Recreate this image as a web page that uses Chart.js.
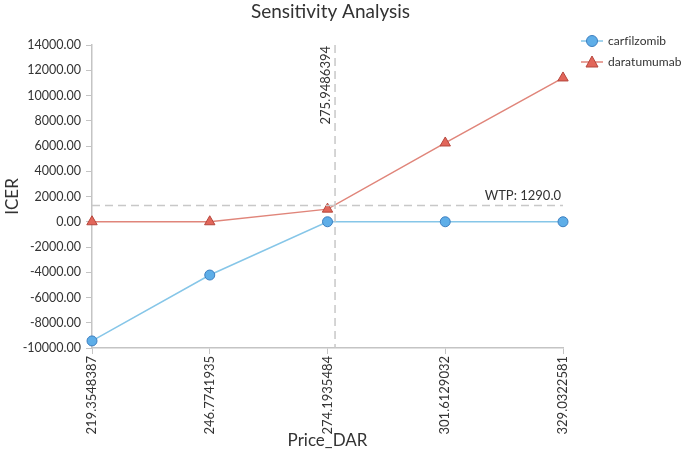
<!DOCTYPE html>
<html>
<head>
<meta charset="utf-8">
<script src="https://cdn.jsdelivr.net/npm/chart.js@4.4.0/dist/chart.umd.min.js"></script>
<style>
  html, body { margin: 0; padding: 0; background: #fff; }
  #wrap { width: 685px; height: 454px; }
</style>
</head>
<body>
<div id="wrap"><canvas id="chart"></canvas></div>
<script>
// Dados
const prices = [219.3548387, 246.7741935, 274.1935484, 301.6129032, 329.0322581];
const carfilzomib = [-9440, -4220, 0, 0, 0];
const daratumumab = [0, 0, 1000, 6240, 11390];
const breakEven = 275.9486394;
const wtp = 1290.0;
const titleText = 'Sensitivity Analysis';

const FONT = 'Lato, "Noto Sans", sans-serif';
const axisGray = '#c4c4c4';
const textColor = '#333';

// titulo, linhas de referencia e legenda desenhados a mao
const extras = {
  id: 'extras',
  afterDatasetsDraw(chart) {
    const { ctx, chartArea, scales } = chart;
    const x = scales.x.getPixelForValue(breakEven);
    const y = scales.y.getPixelForValue(wtp);
    ctx.save();

    ctx.fillStyle = textColor;
    ctx.font = '19px ' + FONT;
    ctx.textAlign = 'center';
    ctx.textBaseline = 'middle';
    ctx.fillText(titleText, (chartArea.left + chartArea.right) / 2 + 3, 12);

    ctx.strokeStyle = '#c8c8c8';
    ctx.lineWidth = 1.5;
    ctx.setLineDash([8, 5]);
    ctx.beginPath();
    ctx.moveTo(x, chartArea.top);
    ctx.lineTo(x, chartArea.bottom);
    ctx.moveTo(chartArea.left, y);
    ctx.lineTo(chartArea.right, y);
    ctx.stroke();
    ctx.setLineDash([]);

    ctx.fillStyle = textColor;
    ctx.font = '13px ' + FONT;
    ctx.textAlign = 'right';
    ctx.textBaseline = 'bottom';
    ctx.fillText('WTP: ' + wtp.toFixed(1), chartArea.right - 2, y - 3);

    ctx.save();
    ctx.translate(x - 3, chartArea.top + 1);
    ctx.rotate(-Math.PI / 2);
    ctx.textAlign = 'right';
    ctx.textBaseline = 'bottom';
    ctx.fillText(String(breakEven), 0, 0);
    ctx.restore();

    // legenda
    const items = [
      { label: 'carfilzomib', ds: chart.data.datasets[0] },
      { label: 'daratumumab', ds: chart.data.datasets[1] }
    ];
    let ly = 41;
    const lx = 581;
    items.forEach(it => {
      ctx.strokeStyle = it.ds.borderColor;
      ctx.lineWidth = 1.5;
      ctx.beginPath();
      ctx.moveTo(lx, ly);
      ctx.lineTo(lx + 22, ly);
      ctx.stroke();
      ctx.fillStyle = it.ds.pointBackgroundColor;
      ctx.strokeStyle = it.ds.pointBorderColor;
      ctx.lineWidth = 1;
      ctx.beginPath();
      if (it.ds.pointStyle === 'triangle') {
        ctx.moveTo(lx + 11, ly - 6);
        ctx.lineTo(lx + 17, ly + 5);
        ctx.lineTo(lx + 5, ly + 5);
        ctx.closePath();
      } else {
        ctx.arc(lx + 11, ly, 5.5, 0, Math.PI * 2);
      }
      ctx.fill();
      ctx.stroke();
      ctx.fillStyle = textColor;
      ctx.font = '12px ' + FONT;
      ctx.letterSpacing = '0.05px';
      ctx.textAlign = 'left';
      ctx.textBaseline = 'middle';
      ctx.fillText(it.label, lx + 27, ly);
      ctx.letterSpacing = '0px';
      ly += 21;
    });
    ctx.restore();
  }
};

const ctx = document.getElementById('chart').getContext('2d');
const chart = new Chart(ctx, {
  type: 'line',
  data: {
    datasets: [{
      label: 'carfilzomib',
      data: prices.map((p, i) => ({ x: p, y: carfilzomib[i] })),
      borderColor: '#86c6e8',
      borderWidth: 1.5,
      pointStyle: 'circle',
      pointRadius: 5,
      pointBackgroundColor: '#5eaee8',
      pointBorderColor: '#3d7fc0',
      pointBorderWidth: 1,
      tension: 0,
      clip: false
    }, {
      label: 'daratumumab',
      data: prices.map((p, i) => ({ x: p, y: daratumumab[i] })),
      borderColor: '#e0857a',
      borderWidth: 1.5,
      pointStyle: 'triangle',
      pointRadius: 6,
      pointBackgroundColor: '#e2665a',
      pointBorderColor: '#b5463c',
      pointBorderWidth: 1,
      tension: 0,
      clip: false
    }]
  },
  options: {
    responsive: true,
    maintainAspectRatio: false,
    animation: false,
    layout: { padding: { left: 0, right: 122, top: 45, bottom: 0 } },
    plugins: {
      legend: { display: false },
      tooltip: { enabled: false },
      title: { display: false }
    },
    scales: {
      x: {
        type: 'linear',
        min: prices[0],
        max: prices[prices.length - 1],
        afterBuildTicks(axis) {
          axis.ticks = prices.map(v => ({ value: v }));
        },
        afterFit(axis) { axis.height = 106; },
        ticks: {
          callback: v => String(v),
          color: textColor,
          font: { family: FONT, size: 13 },
          minRotation: 90,
          maxRotation: 90,
          padding: 2
        },
        grid: { drawOnChartArea: false, color: axisGray, tickLength: 6 },
        border: { color: axisGray, width: 1.5 },
        title: {
          display: true,
          text: 'Price_DAR',
          color: textColor,
          font: { family: FONT, size: 17 },
          padding: { top: 0, bottom: 3 }
        }
      },
      y: {
        min: -10000,
        max: 14000,
        afterFit(axis) { axis.width = 92; },
        ticks: {
          stepSize: 2000,
          callback: v => v.toFixed(2),
          color: textColor,
          font: { family: FONT, size: 12.5 },
          padding: 5
        },
        grid: { drawOnChartArea: false, color: axisGray, tickLength: 6 },
        border: { color: axisGray, width: 1.5 },
        title: {
          display: true,
          text: 'ICER',
          color: textColor,
          font: { family: FONT, size: 17 },
          padding: { top: 2, bottom: 0 }
        }
      }
    }
  },
  plugins: [extras]
});
</script>
</body>
</html>
